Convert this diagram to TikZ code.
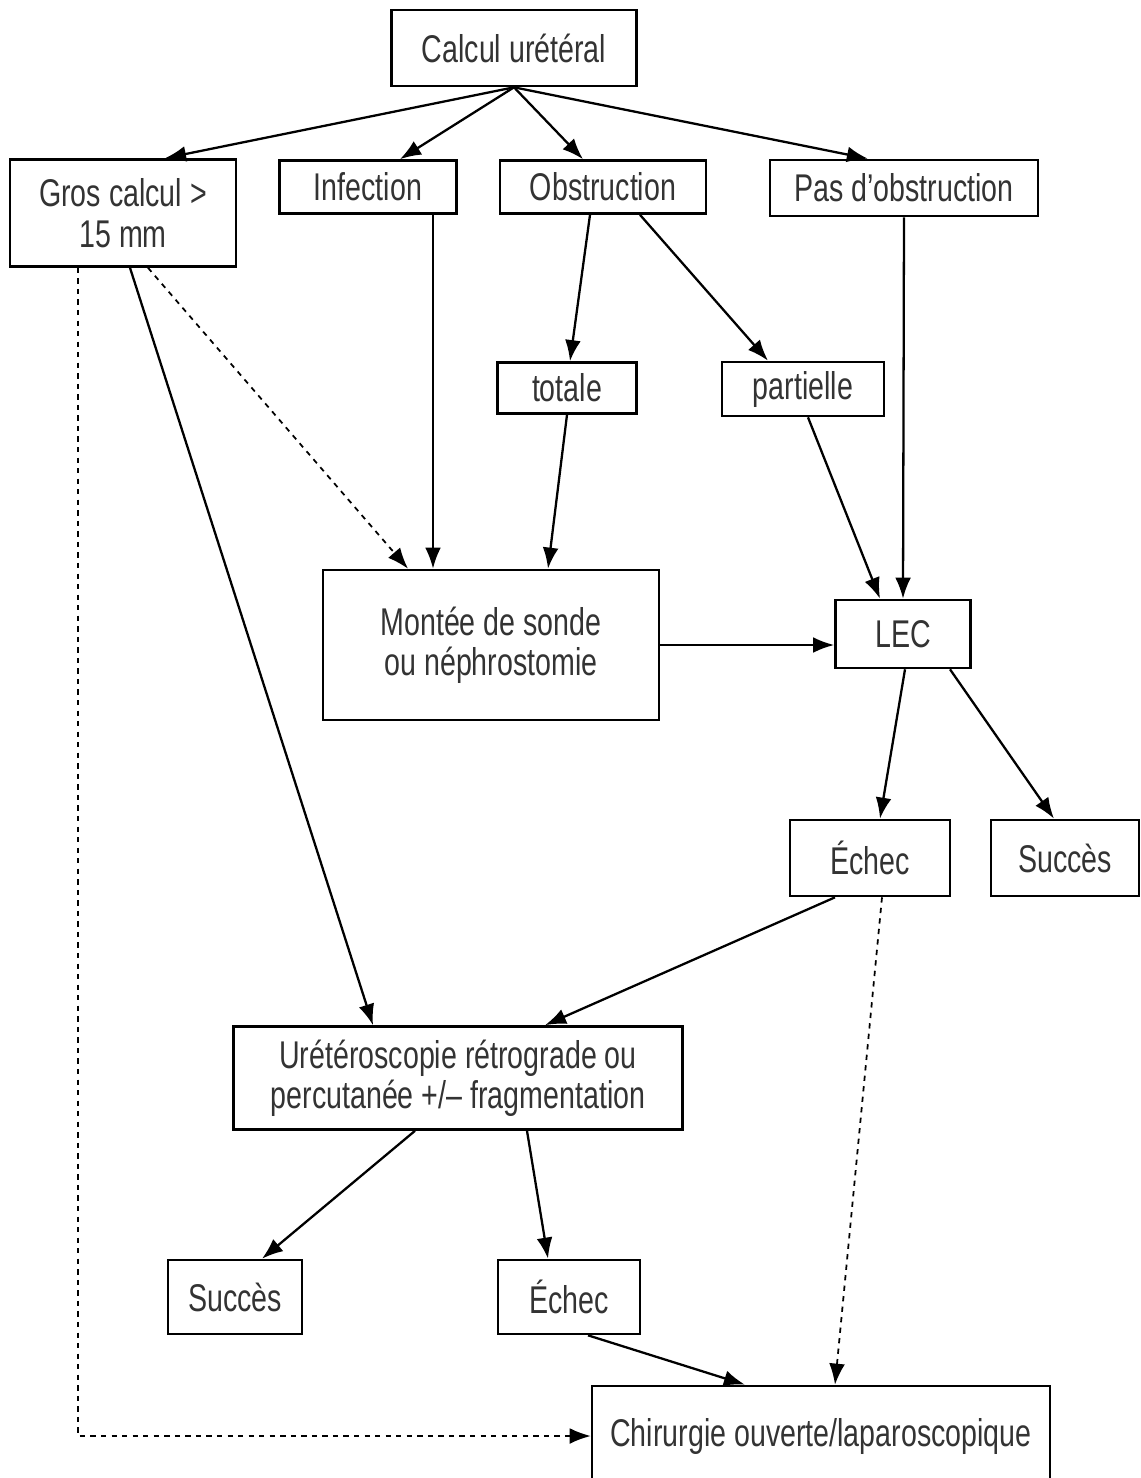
\documentclass[tikz,border=0pt]{standalone}
\usepackage{fontspec}
\setmainfont{Liberation Sans}[FakeStretch=0.74]
\usetikzlibrary{calc,arrows.meta}
\tikzset{box/.style={draw, line width=1.5pt, align=center, text=black!80,
    font=\fontsize{22}{23}\selectfont, inner sep=2pt},
  flow/.style={->, line width=1.3pt, >={Latex[length=12pt,width=9pt]}},
  weak/.style={flow, dashed, line width=1pt}}

\begin{document}
\begin{tikzpicture}[x=0.02cm, y=-0.02cm]
        \useasboundingbox (0,0) rectangle (1141,1478);

        % top row
        \node[box, minimum width=4.9cm, minimum height=1.52cm] (calcul) at (514,48) {Calcul urétéral};
        \node[box, minimum width=4.52cm, minimum height=2.14cm] (gros) at (123,213) {Gros calcul >\\15 mm};
        \node[box, minimum width=3.54cm, minimum height=1.06cm] (infect) at (368,187) {Infection};
        \node[box, minimum width=4.12cm, minimum height=1.06cm] (obstr) at (603,187) {Obstruction};
        \node[box, minimum width=5.36cm, minimum height=1.12cm] (pasobstr) at (904,188) {Pas d’obstruction};

        \node[box, minimum width=2.78cm, minimum height=1.02cm] (totale) at (567,388) {totale};
        \node[box, minimum width=3.24cm, minimum height=1.08cm] (partielle) at (803,389) {partielle};

        \node[box, minimum width=6.72cm, minimum height=3cm] (montee) at (491,645) {Montée de sonde\\ou néphrostomie};
        \node[box, minimum width=2.7cm, minimum height=1.36cm] (lec) at (903,634) {LEC};

        \node[box, minimum width=3.2cm, minimum height=1.52cm] (echecA) at (870,858) {Échec};
        \node[box, minimum width=2.96cm, minimum height=1.52cm] (succesA) at (1065,858) {Succès};

        \node[box, minimum width=8.98cm, minimum height=2.06cm] (uretero) at (458,1078) {Urétéroscopie rétrograde ou\\percutanée +/– fragmentation};

        \node[box, minimum width=2.68cm, minimum height=1.48cm] (succesB) at (235,1297) {Succès};
        \node[box, minimum width=2.84cm, minimum height=1.48cm] (echecB) at (569,1297) {Échec};
        \node[box, minimum width=9.16cm, minimum height=2cm] (chir) at (821,1436) {Chirurgie ouverte/laparoscopique};

        \path[flow]
        (calcul.south) edge ($(gros.north)+(42,0)$)
        (calcul.south) edge ($(infect.north)+(32,0)$)
        (calcul.south) edge ($(obstr.north)+(-20,0)$)
        (calcul.south) edge ($(pasobstr.north)+(-36,0)$)
        ($(gros.south)+(7,0)$) edge ($(uretero.north)+(-85,0)$)
        ($(infect.south)+(65,0)$) edge ($(montee.north)+(-58,0)$)
        ($(obstr.south)+(-13,0)$) edge ($(totale.north)+(3,0)$)
        ($(obstr.south)+(37,0)$) edge ($(partielle.north)+(-35,0)$)
        (totale.south) edge ($(montee.north)+(57,0)$)
        ($(partielle.south)+(5,0)$) edge ($(lec.north)+(-23,0)$)
        (pasobstr.south) edge (lec.north)
        (montee.east) edge (montee.east -| lec.west)
        ($(lec.south)+(2,0)$) edge ($(echecA.north)+(10,0)$)
        ($(lec.south)+(47,0)$) edge ($(succesA.north)+(-11,0)$)
        ($(echecA.south)+(-35,0)$) edge ($(uretero.north)+(87,0)$)
        ($(uretero.south)+(-43,0)$) edge ($(succesB.north)+(27,0)$)
        ($(uretero.south)+(69,0)$) edge ($(echecB.north)+(-21,0)$)
        ($(echecB.south)+(19,0)$) edge ($(chir.north)+(-76,0)$);

        \path[weak]
        ($(gros.south)+(25,0)$) edge ($(montee.north)+(-83,0)$)
        ($(echecA.south)+(12,0)$) edge ($(chir.north)+(14,0)$);
        \draw[weak] ($(gros.south)+(-45,0)$) |- (chir.west);
\end{tikzpicture}
\end{document}
